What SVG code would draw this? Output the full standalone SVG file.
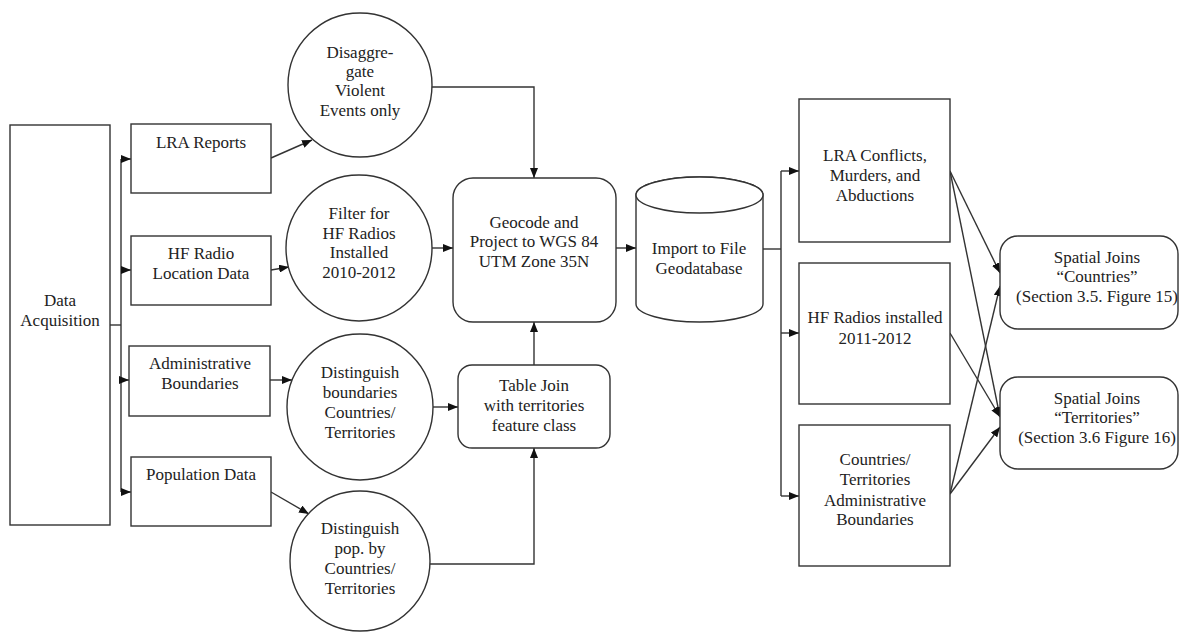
<svg xmlns="http://www.w3.org/2000/svg" width="1180" height="634" viewBox="0 0 1180 634">
<style>
.s{fill:#fff;stroke:#333;stroke-width:1.4}
.t{font-family:"Liberation Serif","Times New Roman",serif;font-size:17px;fill:#222;text-anchor:middle}
.c{fill:none;stroke:#333;stroke-width:1.4}
</style>
<defs>
<marker id="ah" viewBox="0 0 10 8" refX="10" refY="4" markerWidth="10" markerHeight="8" orient="auto" markerUnits="userSpaceOnUse"><path d="M0,0 L10,4 L0,8 z" fill="#111"/></marker>
</defs>
<rect width="1180" height="634" fill="#fff"/>
<g id="connectors">
<path class="c" d="M110,325 H121"/>
<path class="c" d="M121,159 V492"/>
<path class="c" d="M121,159 H131" marker-end="url(#ah)"/>
<path class="c" d="M121,270 H131" marker-end="url(#ah)"/>
<path class="c" d="M121,380 H129" marker-end="url(#ah)"/>
<path class="c" d="M121,492 H131" marker-end="url(#ah)"/>
<path class="c" d="M271,158 L312,140" marker-end="url(#ah)"/>
<path class="c" d="M271,270 L289,267" marker-end="url(#ah)"/>
<path class="c" d="M270,380 L292,380" marker-end="url(#ah)"/>
<path class="c" d="M271,492 L309,514" marker-end="url(#ah)"/>
<path class="c" d="M431,87 H534 V178" marker-end="url(#ah)"/>
<path class="c" d="M432,248 H453" marker-end="url(#ah)"/>
<path class="c" d="M433,407 H458" marker-end="url(#ah)"/>
<path class="c" d="M430,564 H534 V448" marker-end="url(#ah)"/>
<path class="c" d="M534,365 V322" marker-end="url(#ah)"/>
<path class="c" d="M616,248 H636" marker-end="url(#ah)"/>
<path class="c" d="M763,249 H781"/>
<path class="c" d="M781,171 V496"/>
<path class="c" d="M781,171 H799" marker-end="url(#ah)"/>
<path class="c" d="M781,333 H799" marker-end="url(#ah)"/>
<path class="c" d="M781,496 H799" marker-end="url(#ah)"/>
<path class="c" d="M950,171 L1000,273" marker-end="url(#ah)"/>
<path class="c" d="M950,171 L1000,417" marker-end="url(#ah)"/>
<path class="c" d="M950,333 L1000,417" marker-end="url(#ah)"/>
<path class="c" d="M950,494 L1000,286" marker-end="url(#ah)"/>
<path class="c" d="M950,494 L1000,427" marker-end="url(#ah)"/>
</g>
<g id="data-acquisition">
<rect class="s" x="10" y="125" width="100" height="400"/>
<text class="t" x="60" y="306">Data</text>
<text class="t" x="60" y="326">Acquisition</text>
</g>
<g id="lra-reports">
<rect class="s" x="131" y="124" width="140" height="69"/>
<text class="t" x="201" y="148">LRA Reports</text>
</g>
<g id="hf-radio">
<rect class="s" x="131" y="236" width="140" height="69"/>
<text class="t" x="201" y="259">HF Radio</text>
<text class="t" x="201" y="279">Location Data</text>
</g>
<g id="admin-boundaries">
<rect class="s" x="129" y="346" width="141" height="70"/>
<text class="t" x="200" y="369">Administrative</text>
<text class="t" x="200" y="389">Boundaries</text>
</g>
<g id="population-data">
<rect class="s" x="131" y="457" width="140" height="69"/>
<text class="t" x="201" y="480">Population Data</text>
</g>
<g id="disaggregate">
<circle class="s" cx="360" cy="85" r="72"/>
<text class="t" x="360" y="58">Disaggre-</text>
<text class="t" x="360" y="77">gate</text>
<text class="t" x="360" y="96">Violent</text>
<text class="t" x="360" y="116">Events only</text>
</g>
<g id="filter">
<circle class="s" cx="359" cy="248" r="73"/>
<text class="t" x="359" y="219">Filter for</text>
<text class="t" x="359" y="239">HF Radios</text>
<text class="t" x="359" y="258">Installed</text>
<text class="t" x="359" y="278">2010-2012</text>
</g>
<g id="distinguish-boundaries">
<circle class="s" cx="360" cy="407" r="73"/>
<text class="t" x="360" y="378">Distinguish</text>
<text class="t" x="360" y="398">boundaries</text>
<text class="t" x="360" y="418">Countries/</text>
<text class="t" x="360" y="438">Territories</text>
</g>
<g id="distinguish-pop">
<circle class="s" cx="360" cy="561" r="70"/>
<text class="t" x="360" y="534">Distinguish</text>
<text class="t" x="360" y="554">pop. by</text>
<text class="t" x="360" y="574">Countries/</text>
<text class="t" x="360" y="594">Territories</text>
</g>
<g id="geocode">
<rect class="s" x="453" y="178" width="163" height="144" rx="20"/>
<text class="t" x="534" y="228">Geocode and</text>
<text class="t" x="534" y="247">Project to WGS 84</text>
<text class="t" x="534" y="267">UTM Zone 35N</text>
</g>
<g id="table-join">
<rect class="s" x="458" y="365" width="152" height="83" rx="14"/>
<text class="t" x="534" y="391">Table Join</text>
<text class="t" x="534" y="411">with territories</text>
<text class="t" x="534" y="431">feature class</text>
</g>
<g id="geodatabase">
<path class="s" d="M636,195 V304 A63.5,18 0 0 0 763,304 V195 A63.5,18 0 0 0 636,195 Z"/>
<ellipse class="s" cx="699.5" cy="195" rx="63.5" ry="18"/>
<text class="t" x="699" y="254">Import to File</text>
<text class="t" x="699" y="274">Geodatabase</text>
</g>
<g id="lra-conflicts">
<rect class="s" x="799" y="99" width="151" height="143"/>
<text class="t" x="875" y="161">LRA Conflicts,</text>
<text class="t" x="875" y="181">Murders, and</text>
<text class="t" x="875" y="201">Abductions</text>
</g>
<g id="hf-installed">
<rect class="s" x="799" y="263" width="151" height="141"/>
<text class="t" x="875" y="323">HF Radios installed</text>
<text class="t" x="875" y="344">2011-2012</text>
</g>
<g id="countries-territories">
<rect class="s" x="799" y="425" width="151" height="141"/>
<text class="t" x="875" y="465">Countries/</text>
<text class="t" x="875" y="485">Territories</text>
<text class="t" x="875" y="506">Administrative</text>
<text class="t" x="875" y="525">Boundaries</text>
</g>
<g id="sj-countries">
<rect class="s" x="1000" y="236" width="178" height="93" rx="18"/>
<text class="t" x="1097" y="263">Spatial Joins</text>
<text class="t" x="1097" y="282">“Countries”</text>
<text class="t" x="1097" y="302">(Section 3.5. Figure 15)</text>
</g>
<g id="sj-territories">
<rect class="s" x="1000" y="377" width="178" height="92" rx="18"/>
<text class="t" x="1097" y="404">Spatial Joins</text>
<text class="t" x="1097" y="423">“Territories”</text>
<text class="t" x="1097" y="443">(Section 3.6 Figure 16)</text>
</g>
</svg>
